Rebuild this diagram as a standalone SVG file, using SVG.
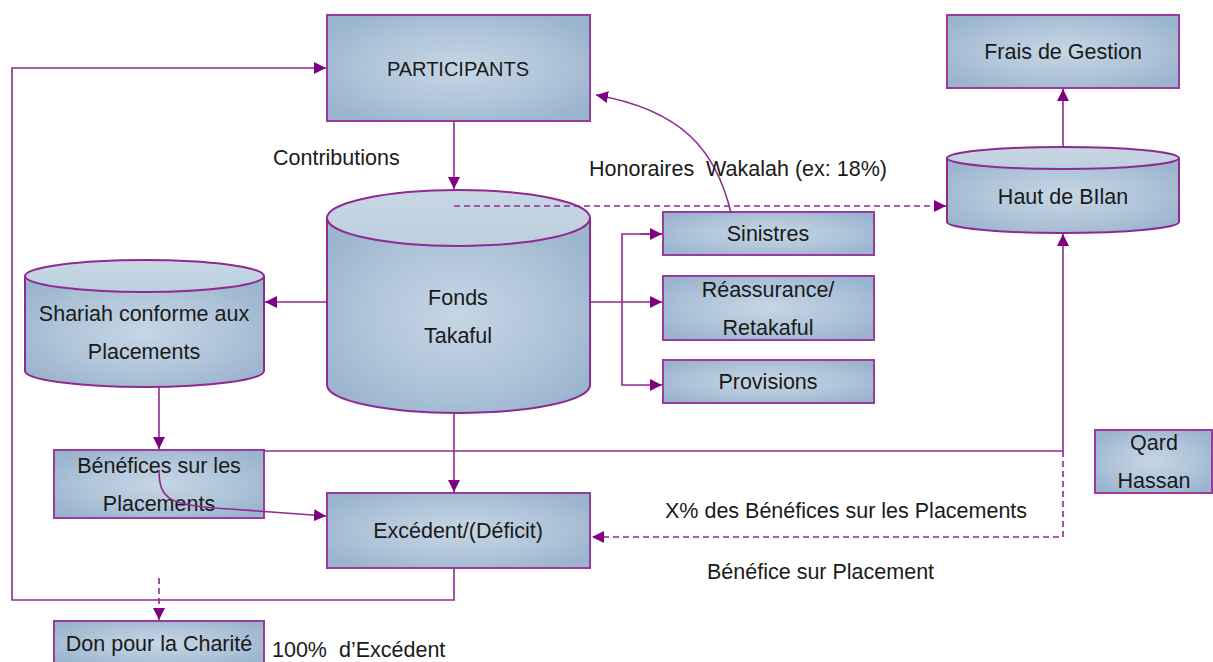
<svg xmlns="http://www.w3.org/2000/svg" width="1213" height="662" viewBox="0 0 1213 662">
  <style>
    .box { fill: url(#boxFill); stroke: #9b3a9f; stroke-width: 2; }
    .cyl { fill: url(#boxFill); stroke: #8e2a92; stroke-width: 2; }
    .cap { fill: url(#capFill); stroke: #8e2a92; stroke-width: 2; }
    .lbl { font-family: "Liberation Sans", Arial, sans-serif; font-size: 21.5px; fill: #1a1a1a; text-anchor: middle; }
    .note { font-family: "Liberation Sans", Arial, sans-serif; font-size: 21.5px; fill: #1a1a1a; }
    .wire { fill: none; stroke: #8e2a92; stroke-width: 1.6; }
    .dash { fill: none; stroke: #8e2a92; stroke-width: 1.6; stroke-dasharray: 6 4; }
  </style>
  <defs>
    <radialGradient id="boxFill" cx="50%" cy="50%" r="60%">
      <stop offset="0" stop-color="#c6d6e4"/>
      <stop offset="0.55" stop-color="#b1c6da"/>
      <stop offset="1" stop-color="#9bb5ce"/>
    </radialGradient>
    <linearGradient id="capFill" x1="0" y1="0" x2="0" y2="1">
      <stop offset="0" stop-color="#c9d7e4"/>
      <stop offset="1" stop-color="#bccfdf"/>
    </linearGradient>
    <marker id="arrow" viewBox="0 0 10 10" refX="10" refY="5" markerWidth="12" markerHeight="12" markerUnits="userSpaceOnUse" orient="auto">
      <path d="M0,0 L10,5 L0,10 z" fill="#800080"/>
    </marker>
  </defs>

  <rect width="1213" height="662" fill="#ffffff"/>

  <!-- nodes -->
  <g id="participants">
    <rect class="box" x="327" y="15" width="263" height="106"/>
    <text class="lbl" x="458" y="76" style="font-size:20px">PARTICIPANTS</text>
  </g>

  <g id="frais-gestion">
    <rect class="box" x="947" y="15" width="232" height="73"/>
    <text class="lbl" x="1063" y="59">Frais de Gestion</text>
  </g>

  <g id="haut-bilan">
    <path class="cyl" d="M947,158 V222 A116,11 0 0 0 1179,222 V158"/>
    <ellipse class="cap" cx="1063" cy="158" rx="116" ry="11"/>
    <text class="lbl" x="1063" y="204">Haut de BIlan</text>
  </g>

  <g id="fonds-takaful">
    <path class="cyl" d="M327,218 V385 A131.5,28 0 0 0 590,385 V218"/>
    <ellipse class="cap" cx="458.5" cy="218" rx="131.5" ry="28"/>
    <text class="lbl" x="458" y="305">Fonds</text>
    <text class="lbl" x="458" y="343">Takaful</text>
  </g>

  <g id="shariah-placements">
    <path class="cyl" d="M25,276 V371 A119.5,16 0 0 0 264,371 V276"/>
    <ellipse class="cap" cx="144.5" cy="276" rx="119.5" ry="16"/>
    <text class="lbl" x="144" y="321">Shariah conforme aux</text>
    <text class="lbl" x="144" y="359">Placements</text>
  </g>

  <g id="sinistres">
    <rect class="box" x="663" y="212" width="211" height="43"/>
    <text class="lbl" x="768" y="241">Sinistres</text>
  </g>

  <g id="reassurance">
    <rect class="box" x="663" y="276" width="211" height="64"/>
    <text class="lbl" x="768" y="297">Réassurance/</text>
    <text class="lbl" x="768" y="335">Retakaful</text>
  </g>

  <g id="provisions">
    <rect class="box" x="663" y="360" width="211" height="43"/>
    <text class="lbl" x="768" y="389">Provisions</text>
  </g>

  <g id="benefices-placements">
    <rect class="box" x="54" y="450" width="210" height="68"/>
    <text class="lbl" x="159" y="473">Bénéfices sur les</text>
    <text class="lbl" x="159" y="511">Placements</text>
  </g>

  <g id="excedent">
    <rect class="box" x="327" y="493" width="263" height="75"/>
    <text class="lbl" x="458" y="538">Excédent/(Déficit)</text>
  </g>

  <g id="qard-hassan">
    <rect class="box" x="1095" y="430" width="117" height="63"/>
    <text class="lbl" x="1154" y="450">Qard</text>
    <text class="lbl" x="1154" y="488">Hassan</text>
  </g>

  <g id="don-charite">
    <rect class="box" x="54" y="621" width="210" height="45"/>
    <text class="lbl" x="159" y="651">Don pour la Charité</text>
  </g>

  <!-- connectors, drawn over the nodes -->
  <g id="connectors">
    <!-- participants to fund -->
    <path class="wire" d="M454,121 V189" marker-end="url(#arrow)"/>
    <!-- fund to top of balance sheet (wakalah fee) -->
    <path class="dash" d="M454,206 H946" marker-end="url(#arrow)"/>
    <!-- top of balance sheet to management fees -->
    <path class="wire" d="M1063,147 V89" marker-end="url(#arrow)"/>
    <!-- claims back to participants -->
    <path class="wire" d="M731,213 C716,150 682,110 596,95" marker-end="url(#arrow)"/>
    <!-- fund to investments -->
    <path class="wire" d="M327,302 H265" marker-end="url(#arrow)"/>
    <!-- fund to claims / reinsurance / provisions -->
    <path class="wire" d="M590,302 H662" marker-end="url(#arrow)"/>
    <path class="wire" d="M662,234 H622 V385 H662" marker-end="url(#arrow)"/>
    <path class="wire" d="M640,234 H662" marker-end="url(#arrow)"/>
    <!-- investments to investment profits -->
    <path class="wire" d="M159,387 V449" marker-end="url(#arrow)"/>
    <!-- investment profits to top of balance sheet -->
    <path class="wire" d="M264,451 H1063 V234" marker-end="url(#arrow)"/>
    <!-- share of investment profits back to surplus -->
    <path class="dash" d="M1063,451 V537 H592" marker-end="url(#arrow)"/>
    <!-- fund to surplus -->
    <path class="wire" d="M454,413 V492" marker-end="url(#arrow)"/>
    <!-- investment profits to surplus -->
    <path class="wire" d="M159,470 C159,500 170,506 230,509 L326,516" marker-end="url(#arrow)"/>
    <!-- surplus back to participants -->
    <path class="wire" d="M454,568 V600 H12 V68 H326" marker-end="url(#arrow)"/>
    <!-- surplus to charity -->
    <path class="dash" d="M159,578 V620" marker-end="url(#arrow)"/>
  </g>

  <!-- free labels -->
  <g id="labels">
    <text class="note" x="273" y="165">Contributions</text>
    <text class="note" x="589" y="176" xml:space="preserve">Honoraires  Wakalah (ex: 18%)</text>
    <text class="note" x="665" y="518">X% des Bénéfices sur les Placements</text>
    <text class="note" x="707" y="579">Bénéfice sur Placement</text>
    <text class="note" x="272" y="657" xml:space="preserve">100%  d’Excédent</text>
  </g>
</svg>
